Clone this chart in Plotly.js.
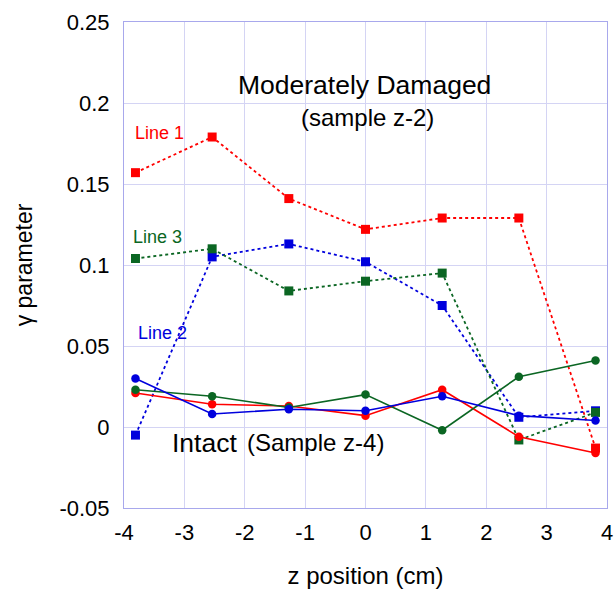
<!DOCTYPE html>
<html>
<head>
<meta charset="utf-8">
<script src="https://cdn.plot.ly/plotly-3.0.1.min.js"></script>
<style>html,body{margin:0;padding:0;background:#fff;}#chart{width:614px;height:589px;}</style>
</head>
<body>
<div id="chart"></div>
<script>
// z positions (cm)
const zPos = [-3.81, -2.54, -1.27, 0, 1.27, 2.54, 3.81];

// Moderately damaged sample z-2 (dotted, squares)
const damagedLine1 = [0.157, 0.179, 0.141, 0.122, 0.129, 0.129, -0.013];
const damagedLine2 = [-0.005, 0.105, 0.113, 0.102, 0.075, 0.006, 0.010];
const damagedLine3 = [0.104, 0.110, 0.084, 0.090, 0.095, -0.008, 0.009];

// Intact sample z-4 (solid, circles)
const intactLine1 = [0.021, 0.014, 0.013, 0.007, 0.023, -0.006, -0.016];
const intactLine2 = [0.030, 0.008, 0.011, 0.010, 0.019, 0.007, 0.004];
const intactLine3 = [0.023, 0.019, 0.012, 0.020, -0.002, 0.031, 0.041];

const xTickVals = [-4, -3, -2, -1, 0, 1, 2, 3, 4];
const yTickVals = [-0.05, 0, 0.05, 0.1, 0.15, 0.2, 0.25];
const yTickText = ['-0.05', '0', '0.05', '0.1', '0.15', '0.2', '0.25'];

const RED = '#ff0000', BLUE = '#0000dd', GREEN = '#0b6623';

function dotted(y, c) {
  return {x: zPos, y: y, mode: 'lines+markers', type: 'scatter',
    line: {color: c, width: 1.8, dash: 'dot'},
    marker: {symbol: 'square', size: 9, color: c}};
}
function solid(y, c) {
  return {x: zPos, y: y, mode: 'lines+markers', type: 'scatter',
    line: {color: c, width: 1.6},
    marker: {symbol: 'circle', size: 8.5, color: c}};
}

const data = [
  dotted(damagedLine1, RED),
  dotted(damagedLine2, BLUE),
  dotted(damagedLine3, GREEN),
  solid(intactLine1, RED),
  solid(intactLine3, GREEN),
  solid(intactLine2, BLUE)
];

const font = 'Liberation Sans, Arial, sans-serif';
const layout = {
  width: 614, height: 589,
  margin: {l: 124, r: 7, t: 22, b: 81},
  paper_bgcolor: '#fff', plot_bgcolor: '#fff',
  showlegend: false,
  font: {family: font, color: '#000'},
  xaxis: {
    range: [-4, 4], tickvals: xTickVals, ticktext: xTickVals.map(String),
    showgrid: true, gridcolor: '#d4d4f4', gridwidth: 1,
    zeroline: false, showline: true, mirror: true, linecolor: '#a8a8ec', linewidth: 1,
    ticks: '', ticklabelstandoff: 5,
    tickfont: {size: 22, family: font, color: '#000'},
    title: {text: 'z position (cm)', font: {size: 24, family: font, color: '#000'}, standoff: 22}
  },
  yaxis: {
    range: [-0.05, 0.25], tickvals: yTickVals, ticktext: yTickText,
    showgrid: true, gridcolor: '#d4d4f4', gridwidth: 1,
    zeroline: false, showline: true, mirror: true, linecolor: '#a8a8ec', linewidth: 1,
    ticks: '', ticklabelstandoff: 9,
    tickfont: {size: 22, family: font, color: '#000'},
    title: {text: 'γ parameter', font: {size: 23, family: font, color: '#000'}, standoff: 20}
  },
  annotations: [
    {text: 'Moderately Damaged', x: -0.018, y: 0.211, xref: 'x', yref: 'y', showarrow: false,
     font: {size: 26.5, family: font, color: '#000'}},
    {text: '(sample z-2)', x: 0.04, y: 0.191, xref: 'x', yref: 'y', showarrow: false,
     font: {size: 24, family: font, color: '#000'}},
    {text: 'Line 1', x: -3.41, y: 0.1815, xref: 'x', yref: 'y', showarrow: false,
     font: {size: 18, family: font, color: RED}},
    {text: 'Line 3', x: -3.445, y: 0.117, xref: 'x', yref: 'y', showarrow: false,
     font: {size: 18, family: font, color: GREEN}},
    {text: 'Line 2', x: -3.37, y: 0.058, xref: 'x', yref: 'y', showarrow: false,
     font: {size: 18, family: font, color: BLUE}},
    {text: 'Intact', x: -2.667, y: -0.0098, xref: 'x', yref: 'y', showarrow: false,
     font: {size: 26.5, family: font, color: '#000'}},
    {text: '(Sample z-4)', x: -0.83, y: -0.0098, xref: 'x', yref: 'y', showarrow: false,
     font: {size: 24, family: font, color: '#000'}}
  ]
};

Plotly.newPlot('chart', data, layout, {displayModeBar: false, staticPlot: true});
</script>
</body>
</html>
